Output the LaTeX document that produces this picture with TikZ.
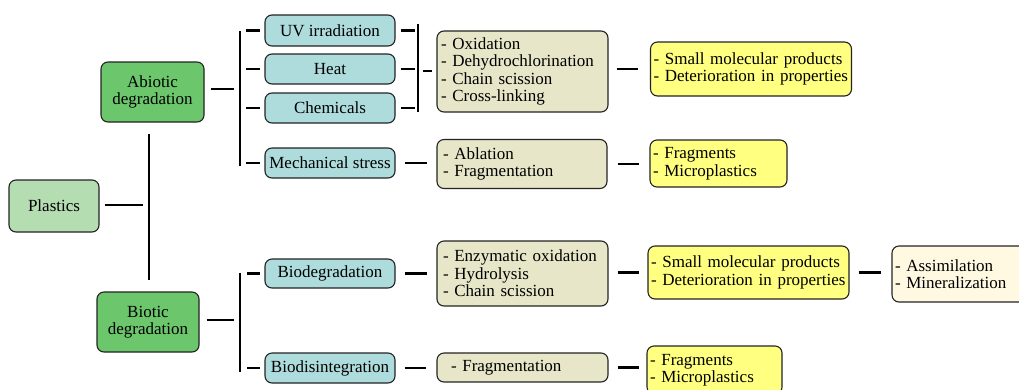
\documentclass[tikz,border=0pt]{standalone}
\usepackage{fontspec}
\setmainfont{Liberation Serif}
\newfontfamily\lserif{Liberation Serif}
\hyphenpenalty=10000
\exhyphenpenalty=10000
\definecolor{plc}{RGB}{180,222,178}
\definecolor{grc}{RGB}{108,198,108}
\definecolor{tlc}{RGB}{174,220,220}
\definecolor{bgc}{RGB}{232,230,200}
\definecolor{ylc}{RGB}{255,255,128}
\definecolor{crc}{RGB}{255,249,226}
\definecolor{edc}{RGB}{35,35,35}
\tikzset{
  box/.style={draw=edc, line width=1.1pt, rounded corners=7pt, inner ysep=0pt,
    font=\lserif\fontsize{17}{17.5}\selectfont},
  cbox/.style={box, align=center, inner xsep=0pt},
  lbox/.style n args={3}{box, align=left, minimum width=#1, minimum height=#2,
    inner xsep=#3, text width=#1-2*#3},
  conn/.style={line width=2.3pt, black},
}
\begin{document}
\begin{tikzpicture}[x=1pt,y=-1pt]
\clip (0,0) rectangle (1019,389);
% level 0 and 1
\node[cbox, fill=plc, minimum width=90pt, minimum height=52pt] (plastics) at (54,206) {Plastics};
\node[cbox, fill=grc, minimum width=103pt, minimum height=60pt] (abiotic) at (152.5,92) {Abiotic\\degradation};
\node[cbox, fill=grc, minimum width=102pt, minimum height=60pt] (biotic) at (148,322) {Biotic\\degradation};
% level 2
\node[cbox, fill=tlc, minimum width=130pt, minimum height=31pt] (uv) at (330,30.5) {UV irradiation};
\node[cbox, fill=tlc, minimum width=130pt, minimum height=30pt] (heat) at (330,69) {Heat};
\node[cbox, fill=tlc, minimum width=130pt, minimum height=30pt] (chem) at (330,108) {Chemicals};
\node[cbox, fill=tlc, minimum width=130pt, minimum height=30pt] (mech) at (330,163) {Mechanical stress};
\node[cbox, fill=tlc, minimum width=130pt, minimum height=29pt] (biodeg) at (330,273.5) {Biodegradation};
\node[cbox, fill=tlc, minimum width=130pt, minimum height=30pt] (biodis) at (330,368) {Biodisintegration};
% level 3
\node[lbox={171pt}{81pt}{4pt}, fill=bgc] (ox) at (522.5,71.5) {- Oxidation\\- Dehydrochlorination\\- Chain scission\\- Cross-linking};
\node[lbox={170pt}{49pt}{6pt}, fill=bgc] (abl) at (522,164) {- Ablation\\- Fragmentation};
\node[lbox={171pt}{65pt}{6pt}, fill=bgc] (enz) at (522.5,273.5) {- Enzymatic oxidation\\- Hydrolysis\\- Chain scission};
\node[lbox={171pt}{29pt}{14pt}, fill=bgc] (frag) at (522.5,367.5) {- Fragmentation};
% level 4
\node[lbox={201pt}{54pt}{3pt}, fill=ylc] (y1) at (751,69) {- Small molecular products\\- Deterioration in properties};
\node[lbox={137pt}{47pt}{3pt}, fill=ylc] (y2) at (718.5,163.5) {- Fragments\\- Microplastics};
\node[lbox={201pt}{53pt}{3pt}, fill=ylc] (y3) at (748.5,272.5) {- Small molecular products\\- Deterioration in properties};
\node[lbox={135pt}{48pt}{3pt}, fill=ylc] (y4) at (714.5,370) {- Fragments\\- Microplastics};
\node[lbox={140pt}{56pt}{3pt}, fill=crc] (assim) at (962,274) {- Assimilation\\- Mineralization};
% trunk
\coordinate (trunk) at (149,205);
\draw[conn, shorten <=11pt, shorten >=11pt] (abiotic.south -| trunk) -- (biotic.north -| trunk);
\draw[conn, shorten <=5pt, shorten >=6pt] (plastics.east |- trunk) -- (trunk);
% abiotic bracket
\coordinate (ab) at (240,89);
\draw[conn, shorten <=6pt, shorten >=6pt] (abiotic.east |- ab) -- (ab);
\draw[conn] (ab |- uv.west) -- ([yshift=-3pt]ab |- mech.west);
\foreach \n in {uv,heat,chem,mech}
  \draw[conn, shorten <=6pt, shorten >=4pt] (ab |- \n.west) -- (\n.west);
% right bracket
\coordinate (rb) at (418,71);
\draw[conn] ([yshift=6.5pt]rb |- uv.east) -- ([yshift=-4pt]rb |- chem.east);
\foreach \n in {uv,heat,chem}
  \draw[conn, shorten <=5pt, shorten >=3pt] (\n.east) -- (rb |- \n.east);
\draw[conn, shorten <=5pt, shorten >=4pt] (rb) -- (ox.west |- rb);
\draw[conn, shorten <=9pt, shorten >=9pt] (mech.east) -- (mech.east -| abl.west);
\draw[conn, shorten <=8pt, shorten >=12pt] (ox.east |- y1.west) -- (y1.west);
\draw[conn, shorten <=10pt, shorten >=10pt] (abl.east) -- (abl.east -| y2.west);
% biotic bracket
\coordinate (bb) at (240,320);
\draw[conn, shorten <=7pt, shorten >=6pt] (biotic.east |- bb) -- (bb);
\draw[conn] ([yshift=1pt]bb |- biodeg.west) -- ([yshift=-4pt]bb |- biodis.west);
\foreach \n in {biodeg,biodis}
  \draw[conn, shorten <=7pt, shorten >=4pt] (bb |- \n.west) -- (\n.west);
\draw[conn, shorten <=9pt, shorten >=9pt] (biodeg.east) -- (biodeg.east -| enz.west);
\draw[conn, shorten <=9pt, shorten >=10pt] (biodis.east) -- (biodis.east -| frag.west);
\draw[conn, shorten <=9pt, shorten >=8pt] (enz.east |- y3.west) -- (y3.west);
\draw[conn, shorten <=9pt, shorten >=10pt] (y3.east) -- (y3.east -| assim.west);
\draw[conn, shorten <=9pt, shorten >=7pt] (frag.east) -- (frag.east -| y4.west);
\end{tikzpicture}
\end{document}
